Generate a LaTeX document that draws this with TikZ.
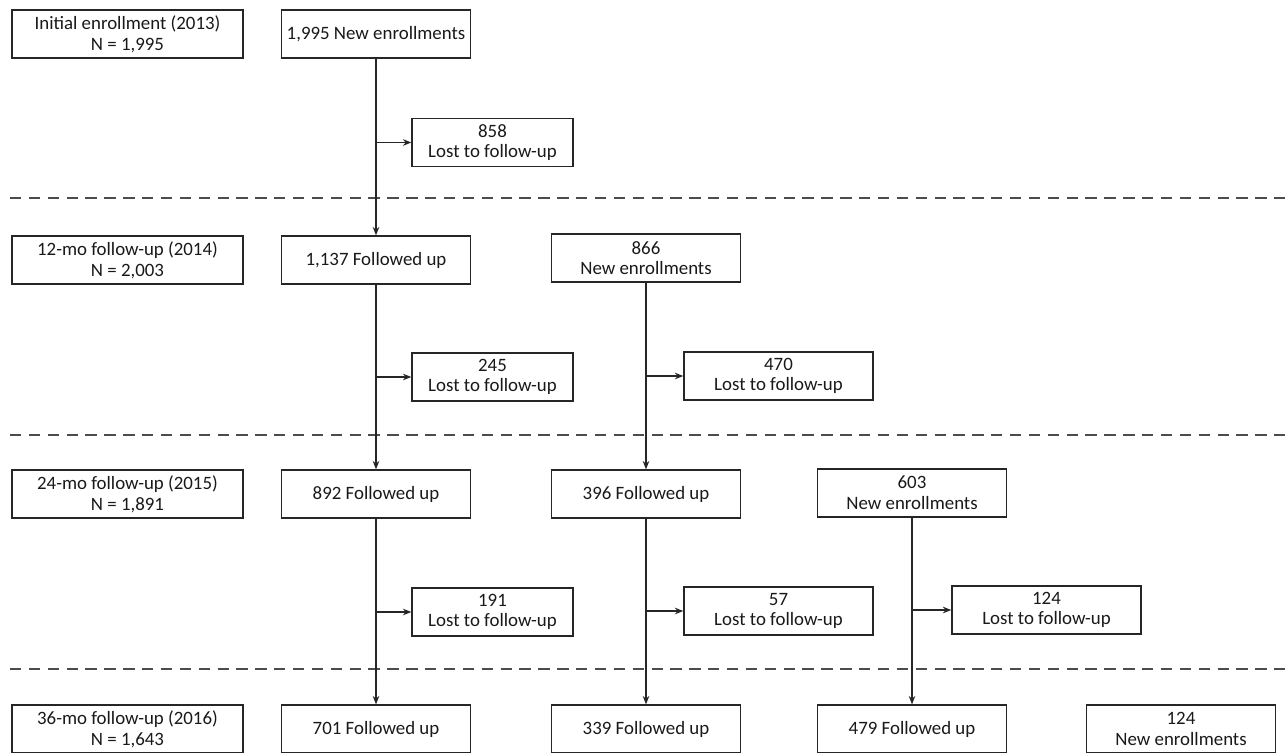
\documentclass[tikz,border=0pt]{standalone}
\usepackage{fontspec}
\setmainfont{Carlito}
\usetikzlibrary{arrows.meta}

\begin{document}
\begin{tikzpicture}
        [
        x = 0.53pt, y = -0.53pt,
        every node/.style = {rectangle, draw = black!85, text = black!90, align = center, inner sep = 1, line width = 0.7pt},
        wave/.style = {minimum width = 122.4pt, minimum height = 25.4pt},
        grp/.style = {minimum width = 100.2pt, minimum height = 25.4pt},
        lost/.style = {minimum width = 100.2pt, minimum height = 25.4pt},
        lostnarrow/.style = {minimum width = 85.3pt, minimum height = 25.4pt},
        flow/.style = {draw = black!85, line width = 0.7pt, -{Stealth[length = 4.5pt, width = 3.5pt]}},
        sep/.style = {draw = black!70, line width = 0.7pt, dash pattern = on 6pt off 4pt},
        font = {\fontsize{10}{11}\selectfont}]
        \useasboundingbox (0, 0) rectangle (1285, 752);
        % wave labels
        \node[wave] (w0) at (127.5, 34) {Initial enrollment (2013)\\N = 1,995};
        \node[wave] (w1) at (127.5, 260) {12-mo follow-up (2014)\\N = 2,003};
        \node[wave] (w2) at (127.5, 494) {24-mo follow-up (2015)\\N = 1,891};
        \node[wave] (w3) at (127.5, 729) {36-mo follow-up (2016)\\N = 1,643};
        % cohort 2013
        \node[grp] (c1a) at (376, 34) {1,995 New enrollments};
        \node[grp] (c1b) at (376, 260) {1,137 Followed up};
        \node[grp] (c1c) at (376, 494) {892 Followed up};
        \node[grp] (c1d) at (376, 729) {701 Followed up};
        \node[lostnarrow] (l1a) at (492.5, 142.5) {858\\Lost to follow-up};
        \node[lostnarrow] (l1b) at (492.5, 377) {245\\Lost to follow-up};
        \node[lostnarrow] (l1c) at (492.5, 612) {191\\Lost to follow-up};
        % cohort 2014
        \node[grp] (c2a) at (646, 258) {866\\New enrollments};
        \node[grp] (c2b) at (646, 494) {396 Followed up};
        \node[grp] (c2c) at (646, 729) {339 Followed up};
        \node[lost] (l2a) at (778.5, 376) {470\\Lost to follow-up};
        \node[lost] (l2b) at (778.5, 611) {57\\Lost to follow-up};
        % cohort 2015
        \node[grp] (c3a) at (912, 493) {603\\New enrollments};
        \node[grp] (c3b) at (912, 729) {479 Followed up};
        \node[lost] (l3a) at (1046.5, 610) {124\\Lost to follow-up};
        % cohort 2016
        \node[grp] (c4a) at (1181, 729) {124\\New enrollments};
        % branch points
        \coordinate (b1a) at (376, 142.5);
        \coordinate (b1b) at (376, 377);
        \coordinate (b1c) at (376, 612);
        \coordinate (b2a) at (646, 376);
        \coordinate (b2b) at (646, 611);
        \coordinate (b3a) at (912, 610);
        % separators
        \draw[sep] (10, 198) -- (1285, 198);
        \draw[sep] (10, 435) -- (1285, 435);
        \draw[sep] (10, 669) -- (1285, 669);
        % flows
        \draw[flow] (c1a) -- (c1b);
        \draw[flow] (c1b) -- (c1c);
        \draw[flow] (c1c) -- (c1d);
        \draw[flow] (c2a) -- (c2b);
        \draw[flow] (c2b) -- (c2c);
        \draw[flow] (c3a) -- (c3b);
        \draw[flow] (b1a) -- (l1a);
        \draw[flow] (b1b) -- (l1b);
        \draw[flow] (b1c) -- (l1c);
        \draw[flow] (b2a) -- (l2a);
        \draw[flow] (b2b) -- (l2b);
        \draw[flow] (b3a) -- (l3a);
\end{tikzpicture}
\end{document}
